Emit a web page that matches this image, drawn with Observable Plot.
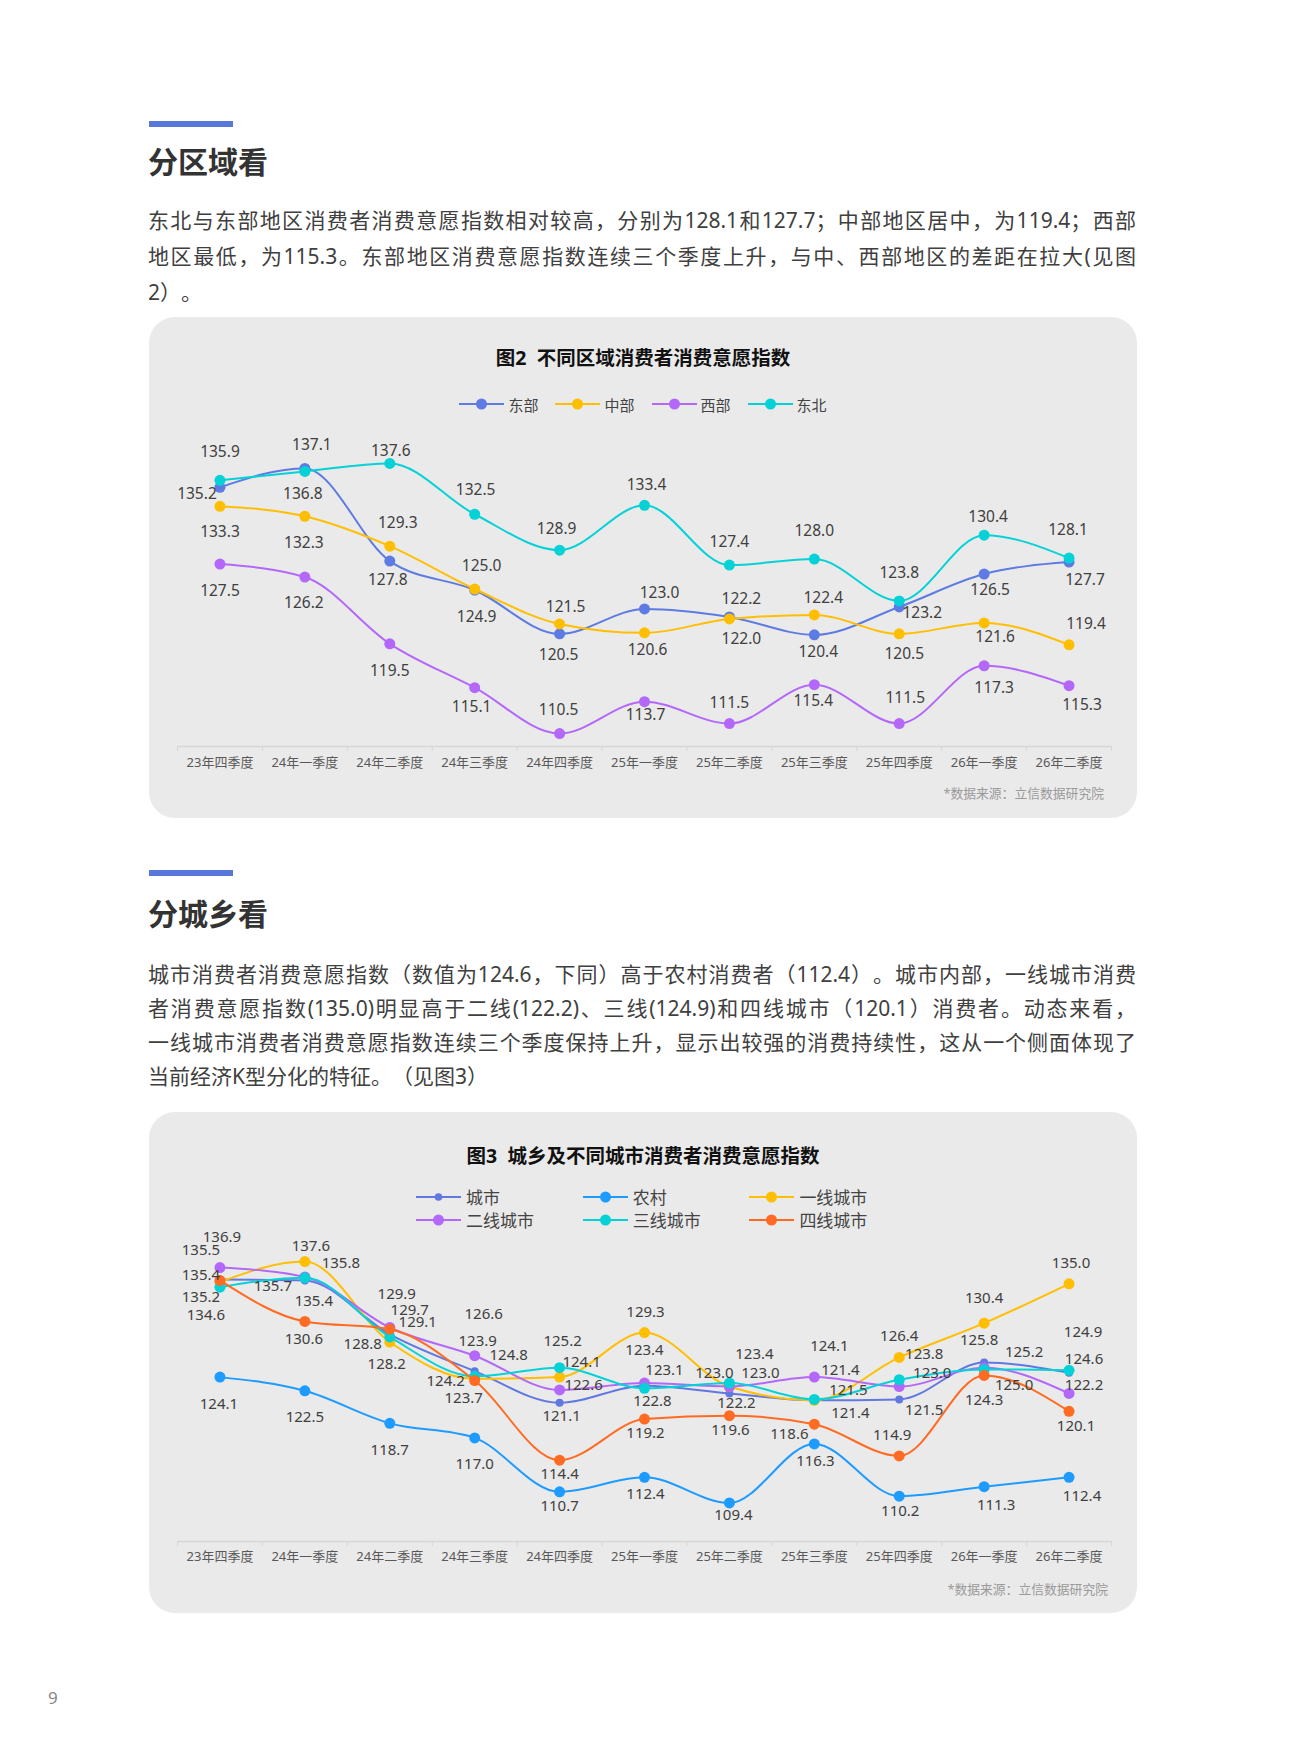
<!DOCTYPE html>
<html><head><meta charset="utf-8">
<script src="https://cdn.jsdelivr.net/npm/d3@7"></script>
<script src="https://cdn.jsdelivr.net/npm/@observablehq/plot@0.6"></script>
<style>
html,body{margin:0;padding:0;background:#fff;}
body{width:1298px;height:1753px;position:relative;overflow:hidden;font-family:"Noto Sans","Noto Sans CJK SC",sans-serif;text-spacing-trim:space-all;}
.bar{position:absolute;left:149px;width:84px;height:6px;background:#5877DB;}
.h{position:absolute;left:148px;font-size:30px;font-weight:700;color:#333;line-height:40px;font-family:"Noto Sans CJK SC",sans-serif;}
.para{position:absolute;left:148px;width:988px;font-size:21px;color:#404040;text-spacing-trim:space-all;}
.para div{text-align:justify;text-align-last:justify;}
.para div.last{text-align-last:left;}
.card{position:absolute;left:149px;width:988px;height:501px;background:#EAEAEA;border-radius:26px;}
.ctitle{position:absolute;left:149px;width:988px;text-align:center;font-size:19.5px;font-weight:700;color:#111;line-height:26px;}
.legend{position:absolute;display:flex;align-items:center;color:#444;}
.legend .item{display:flex;align-items:center;}
.legend svg{display:block;}
.src{position:absolute;font-size:12.8px;color:#9a9a9a;line-height:16px;}
.chart{position:absolute;left:0;}
.pg{position:absolute;left:48px;top:1686px;font-size:17px;color:#888;line-height:24px;}
</style></head>
<body>
<div class="bar" style="top:121px"></div>
<div class="h" style="top:140px">分区域看</div>
<div class="para" style="top:202px;line-height:36px">
<div>东北与东部地区消费者消费意愿指数相对较高，分别为128.1和127.7；中部地区居中，为119.4；西部</div>
<div>地区最低，为115.3。东部地区消费意愿指数连续三个季度上升，与中、西部地区的差距在拉大(见图</div>
<div class="last">2）。</div>
</div>
<div class="card" style="top:317px"></div>
<div class="ctitle" style="top:345px">图2&nbsp;&nbsp;不同区域消费者消费意愿指数</div>
<div class="legend" id="leg2" style="left:0;width:1286px;justify-content:center;top:394px;height:20px;gap:17px;font-size:15px"></div>
<div class="chart" id="chart2" style="top:420px"></div>
<div class="src" style="right:194px;top:785px">*数据来源：立信数据研究院</div>

<div class="bar" style="top:870px"></div>
<div class="h" style="top:892px">分城乡看</div>
<div class="para" style="top:957px;line-height:34px">
<div>城市消费者消费意愿指数（数值为124.6，下同）高于农村消费者（112.4）。城市内部，一线城市消费</div>
<div>者消费意愿指数(135.0)明显高于二线(122.2)、三线(124.9)和四线城市（120.1）消费者。动态来看，</div>
<div>一线城市消费者消费意愿指数连续三个季度保持上升，显示出较强的消费持续性，这从一个侧面体现了</div>
<div class="last">当前经济K型分化的特征。（见图3）</div>
</div>
<div class="card" style="top:1112px"></div>
<div class="ctitle" style="top:1143px">图3&nbsp;&nbsp;城乡及不同城市消费者消费意愿指数</div>
<div class="legend" id="leg3" style="left:416px;width:510px;top:1185px;flex-wrap:wrap;font-size:17px"></div>
<div class="chart" id="chart3" style="top:1220px"></div>
<div class="src" style="right:190px;top:1581px">*数据来源：立信数据研究院</div>
<div class="pg">9</div>

<script>
// ---------- data ----------
const quarters = ["23年四季度","24年一季度","24年二季度","24年三季度","24年四季度","25年一季度","25年二季度","25年三季度","25年四季度","26年一季度","26年二季度"];

// Figure 2: regions
const regionNames = ["东部","中部","西部","东北"];
const eastValues      = [135.2,137.1,127.8,124.9,120.5,123.0,122.2,120.4,123.2,126.5,127.7];
const centralValues   = [133.3,132.3,129.3,125.0,121.5,120.6,122.0,122.4,120.5,121.6,119.4];
const westValues      = [127.5,126.2,119.5,115.1,110.5,113.7,111.5,115.4,111.5,117.3,115.3];
const northeastValues = [135.9,136.8,137.6,132.5,128.9,133.4,127.4,128.0,123.8,130.4,128.1];

// Figure 3: urban / rural / city tiers
const cityNames = ["城市","农村","一线城市","二线城市","三线城市","四线城市"];
const urbanValues = [135.5,135.4,129.1,124.8,121.1,123.1,122.2,121.4,121.5,125.8,124.6];
const ruralValues = [124.1,122.5,118.7,117.0,110.7,112.4,109.4,116.3,110.2,111.3,112.4];
const tier1Values = [135.2,137.6,128.2,123.9,124.1,129.3,123.0,121.4,126.4,130.4,135.0];
const tier2Values = [136.9,135.8,129.9,126.6,122.6,123.4,123.0,124.1,123.0,125.2,122.2];
const tier3Values = [134.6,135.7,128.8,124.2,125.2,122.8,123.4,121.5,123.8,125.0,124.9];
const tier4Values = [135.4,130.6,129.7,123.7,114.4,119.2,119.6,118.6,114.9,124.3,120.1];

// ---------- styling / label nudges (pixels) ----------
const nudge2 = {
  "东部": [[-23,7],[7,-23],[-2,19],[2,27],[-1,21],[15,-16],[12,-18],[4,17],[23,6],[6,16],[16,18]],
  "中部": [[0,26],[-1,27],[8,-23],[7,-23],[6,-17],[3,17],[12,20],[9,-17],[5,20],[11,14],[17,-21]],
  "西部": [[0,27],[-1,26],[0,27],[-3,19],[-1,-24],[1,13],[0,-21],[-1,16],[6,-26],[10,22],[13,19]],
  "东北": [[0,-28],[-2,23],[1,-12],[1,-24],[-3,-21],[2,-20],[0,-23],[0,-28],[0,-28],[4,-18],[-1,-28]]
};
const nudge3 = {
  "城市":     [[-19,-29],[9,21],[28,-12],[34,-16],[2,13],[20,-15],[7,10],[36,13],[25,11],[-5,-22],[15,-14]],
  "农村":     [[-1,27],[0,26],[0,27],[0,26],[0,14],[1,17],[4,12],[1,17],[1,15],[12,18],[13,19]],
  "一线城市": [[-19,15],[6,-15],[-3,22],[3,-38],[22,-15],[1,-20],[-15,-13],[26,-30],[0,-21],[0,-25],[2,-21]],
  "二线城市": [[2,-30],[36,-14],[7,-33],[9,-42],[24,-5],[0,-33],[31,-13],[15,-31],[33,-13],[40,-16],[15,-8]],
  "三线城市": [[-14,28],[-32,8],[-27,7],[-29,5],[3,-27],[8,13],[25,-29],[34,-9],[25,-26],[30,16],[14,-38]],
  "四线城市": [[-19,-5],[-1,18],[20,-19],[-11,18],[0,14],[1,14],[1,15],[-25,10],[-7,-21],[0,25],[7,15]]
};

const series2 = [
  {name:regionNames[0], values:eastValues,      color:"#5D7BE2", r:5.5},
  {name:regionNames[1], values:centralValues,   color:"#FFBF00", r:5.5},
  {name:regionNames[2], values:westValues,      color:"#B368FA", r:5.5},
  {name:regionNames[3], values:northeastValues, color:"#05D2D6", r:5.5}
];
const series3 = [
  {name:cityNames[0], values:urbanValues, color:"#6078E0", r:4},
  {name:cityNames[1], values:ruralValues, color:"#1E9BFF", r:5.5},
  {name:cityNames[2], values:tier1Values, color:"#FFBF00", r:5.5},
  {name:cityNames[3], values:tier2Values, color:"#B368FA", r:5.5},
  {name:cityNames[4], values:tier3Values, color:"#05D2D6", r:5.5},
  {name:cityNames[5], values:tier4Values, color:"#FF6B22", r:5.5}
];

const FONT = '"Noto Sans","Noto Sans CJK SC",sans-serif';

function buildChart({series, nudge, height, yDomain, marginTop, marginBottom, labelSize, tickDy}) {
  const boundaries = d3.range(quarters.length + 1).map(k => k - 0.5);
  const marks = [
    Plot.ruleY([yDomain[0]], {stroke:"#d7d7d7", strokeWidth:1.6}),
    Plot.axisX(boundaries, {tickSize:5, tickFormat:() => "", stroke:"#d7d7d7", label:null}),
    Plot.text(quarters, {x:(d,i) => i, frameAnchor:"bottom", dy:tickDy, text:d => d, fill:"#595959", fontSize:13})
  ];
  for (const s of series) {
    const rows = s.values.map((v,i) => ({i, v}));
    marks.push(Plot.line(rows, {x:"i", y:"v", stroke:s.color, strokeWidth:2, curve:"monotone-x"}));
    marks.push(Plot.dot(rows, {x:"i", y:"v", fill:s.color, r:s.r, stroke:"none"}));
  }
  for (const s of series) {
    s.values.forEach((v,i) => {
      const [dx, dy] = nudge[s.name][i];
      marks.push(Plot.text([{i, v}], {x:"i", y:"v", text:d => d.v.toFixed(1), dx, dy, fill:"#404040", fontSize:labelSize}));
    });
  }
  return Plot.plot({
    width:1298, height,
    marginLeft:177, marginRight:187, marginTop, marginBottom,
    x:{domain:[-0.5, quarters.length - 0.5], label:null},
    y:{domain:yDomain, axis:null, label:null},
    style:{background:"transparent", fontFamily:FONT, overflow:"visible"},
    marks
  });
}

function legendItem(s, lineLen, labelGap) {
  const item = document.createElement("div");
  item.className = "item";
  const svg = d3.create("svg").attr("width", lineLen).attr("height", 14);
  svg.append("line").attr("x1",0).attr("x2",lineLen).attr("y1",7).attr("y2",7).attr("stroke",s.color).attr("stroke-width",2);
  svg.append("circle").attr("cx",lineLen/2).attr("cy",7).attr("r", s.r === 4 ? 3.8 : 5.5).attr("fill",s.color);
  item.appendChild(svg.node());
  const lab = document.createElement("span");
  lab.textContent = s.name;
  lab.style.marginLeft = labelGap + "px";
  item.appendChild(lab);
  return item;
}

const leg2 = document.getElementById("leg2");
series2.forEach(s => leg2.appendChild(legendItem(s, 45, 4)));
const leg3 = document.getElementById("leg3");
series3.forEach(s => {
  const it = legendItem(s, 45, 5);
  it.style.width = "166.7px";
  it.style.height = "23.3px";
  leg3.appendChild(it);
});

document.getElementById("chart2").appendChild(buildChart({
  series:series2, nudge:nudge2, height:360, yDomain:[109.2, 140], marginTop:19, marginBottom:34, labelSize:15.5, tickDy:20
}));
document.getElementById("chart3").appendChild(buildChart({
  series:series3, nudge:nudge3, height:355, yDomain:[104.9, 140], marginTop:20.5, marginBottom:34, labelSize:15, tickDy:19
}));
</script>
</body></html>
